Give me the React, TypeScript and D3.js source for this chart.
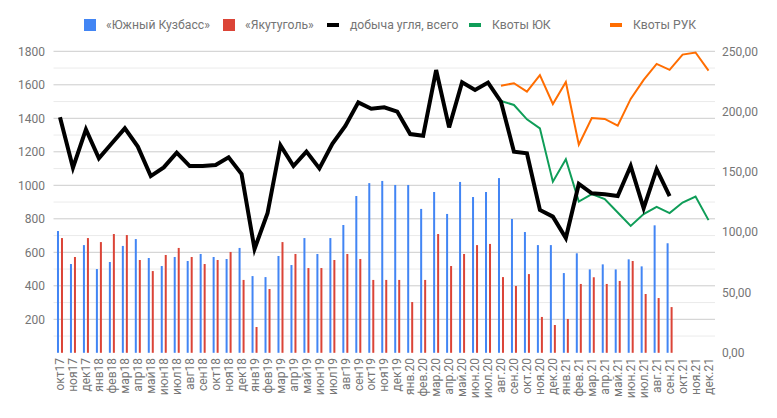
import React from 'react';
import * as d3 from 'd3';

const months = [
    'окт17', 'ноя17', 'дек17', 'янв18', 'фев18', 'мар18', 'апр18', 'май18', 'июн18', 'июл18',
    'авг18', 'сен18', 'окт18', 'ноя18', 'дек18', 'янв19', 'фев19', 'мар19', 'апр19', 'май19',
    'июн19', 'июл19', 'авг19', 'сен19', 'окт19', 'ноя19', 'дек19', 'янв.20', 'фев.20', 'мар.20',
    'апр.20', 'май.20', 'июн.20', 'июл.20', 'авг.20', 'сен.20', 'окт.20', 'ноя.20', 'дек.20', 'янв.21',
    'фев.21', 'мар.21', 'апр.21', 'май.21', 'июн.21', 'июл.21', 'авг.21', 'сен.21', 'окт.21', 'ноя.21',
    'дек.21',
];

// «Южный Кузбасс» (left axis)
const southKuzbass = [
    727, 530, 643, 500, 542, 638, 679, 566, 518, 572,
    548, 590, 572, 560, 626, 458, 452, 578, 524, 685,
    590, 685, 763, 936, 1013, 1026, 1002, 1002, 859, 960,
    829, 1020, 930, 960, 1043, 799, 721, 643, 643, 476,
    594, 498, 528, 498, 558, 516, 761, 654, null, null,
    null,
];

// «Якутуголь» (left axis)
const yakutugol = [
    685, 572, 685, 661, 709, 703, 554, 488, 584, 626,
    572, 530, 554, 602, 435, 154, 381, 661, 590, 506,
    506, 554, 590, 560, 435, 435, 435, 303, 435, 709,
    518, 590, 643, 650, 452, 399, 470, 214, 166, 202,
    411, 451, 411, 429, 548, 351, 327, 273, null, null,
    null,
];

// добыча угля, всего (left axis)
const coalTotal = [
    1406, 1105, 1334, 1161, 1251, 1340, 1231, 1055, 1107, 1195,
    1115, 1115, 1121, 1167, 1067, 620, 833, 1238, 1115, 1201,
    1101, 1247, 1354, 1495, 1457, 1466, 1440, 1306, 1296, 1688,
    1346, 1615, 1569, 1613, 1499, 1201, 1191, 853, 813, 685,
    1008, 952, 946, 936, 1115, 863, 1096, 936, null, null,
    null,
];

// Квоты ЮК (right axis), from авг.20
const quotaUK = [
    208.8, 205.5, 193.6, 186.1, 141.9, 160.5, 125.4, 131.6, 127.4, 116.3,
    105.2, 115, 121, 115.8, 124.6, 129.6, 110,
];

// Квоты РУК (right axis), from авг.20
const quotaRUK = [
    221.5, 223.5, 216.5, 230.3, 206.3, 224.5, 172.5, 194.7, 193.9, 188.3,
    210.5, 226.3, 239.5, 234.6, 247.3, 249, 234,
];

const quotaStart = 34;

const leftTicks = [200, 400, 600, 800, 1000, 1200, 1400, 1600, 1800];
const leftMinor = [100, 300, 500, 700, 900, 1100, 1300, 1500, 1700];
const rightTicks = [0, 50, 100, 150, 200, 250];

const legendItems = [
    { label: '«Южный Кузбасс»', color: '#4285F4', kind: 'bar', x: 84 },
    { label: '«Якутуголь»', color: '#DB4437', kind: 'bar', x: 223 },
    { label: 'добыча угля, всего', color: '#000000', kind: 'line', x: 327 },
    { label: 'Квоты ЮК', color: '#0F9D58', kind: 'line', x: 469 },
    { label: 'Квоты РУК', color: '#FF6D01', kind: 'line', x: 610 },
];

const width = 777;
const height = 418;
const plotLeft = 53.5;
const plotRight = 715;
const yTop = 51.3;
const yZero = 352.8;
const font = 'Roboto, sans-serif';
const grey = '#757575';

const App: React.FC = () => {
    const x = d3.scaleBand<string>().domain(months).range([plotLeft, plotRight]);
    const cx = (i: number) => (x(months[i]) ?? 0) + x.bandwidth() / 2;
    const yLeft = d3.scaleLinear().domain([0, 1800]).range([yZero, yTop]);
    const yRight = d3.scaleLinear().domain([0, 250]).range([yZero, yTop]);

    const lineLeft = d3.line<number | null>()
        .defined(d => d !== null)
        .x((_, i) => cx(i))
        .y(d => yLeft(d as number));

    const lineRight = d3.line<number>()
        .x((_, i) => cx(i + quotaStart))
        .y(d => yRight(d));

    const fmt = (v: number) => d3.format('.2f')(v).replace('.', ',');

    return (
        <svg width={width} height={height} style={{ position: 'absolute', left: 0, top: 0, background: '#fff' }}
            fontFamily={font}>
            {/* gridlines */}
            {leftMinor.map(t => (
                <line key={'m' + t} x1={plotLeft} x2={plotRight} y1={yLeft(t)} y2={yLeft(t)}
                    stroke="#ebebeb" strokeWidth={1} />
            ))}
            {leftTicks.map(t => (
                <line key={'g' + t} x1={plotLeft} x2={plotRight} y1={yLeft(t)} y2={yLeft(t)}
                    stroke="#cccccc" strokeWidth={1} />
            ))}

            {/* left axis */}
            {leftTicks.map(t => (
                <text key={'l' + t} x={45} y={yLeft(t)} dy="0.35em" textAnchor="end" fontSize={12} fill={grey}>
                    {t}
                </text>
            ))}
            {/* right axis */}
            {rightTicks.map(t => (
                <text key={'r' + t} x={722} y={yRight(t)} dy="0.35em" textAnchor="start" fontSize={12} fill={grey}>
                    {fmt(t)}
                </text>
            ))}

            {/* bars */}
            {southKuzbass.map((v, i) => v === null ? null : (
                <rect key={'b' + i} x={cx(i) - 3} y={yLeft(v)} width={2} height={yZero - yLeft(v)} fill="#4285F4" />
            ))}
            {yakutugol.map((v, i) => v === null ? null : (
                <rect key={'r' + i} x={cx(i) + 1} y={yLeft(v)} width={2} height={yZero - yLeft(v)} fill="#DB4437" />
            ))}

            {/* lines */}
            <path d={lineRight(quotaRUK) ?? ''} fill="none" stroke="#FF6D01" strokeWidth={2} />
            <path d={lineRight(quotaUK) ?? ''} fill="none" stroke="#0F9D58" strokeWidth={2} />
            <path d={lineLeft(coalTotal) ?? ''} fill="none" stroke="#000000" strokeWidth={4} />

            {/* x labels */}
            {months.map((m, i) => (
                <text key={'x' + i} transform={`translate(${cx(i)},358) rotate(-90)`} dy="0.35em"
                    textAnchor="end" fontSize={12} fill={grey}>
                    {m}
                </text>
            ))}

            {/* legend */}
            {legendItems.map(item => (
                <g key={item.label} transform={`translate(${item.x},25)`}>
                    {item.kind === 'bar'
                        ? <rect x={0} y={-6} width={12} height={12} fill={item.color} />
                        : <rect x={0} y={-2} width={12} height={4} fill={item.color} />}
                    <text x={item.kind === 'bar' ? 22 : 23} y={0} dy="0.35em" fontSize={12.2} fill={grey}>
                        {item.label}
                    </text>
                </g>
            ))}
        </svg>
    );
};

export default App;
